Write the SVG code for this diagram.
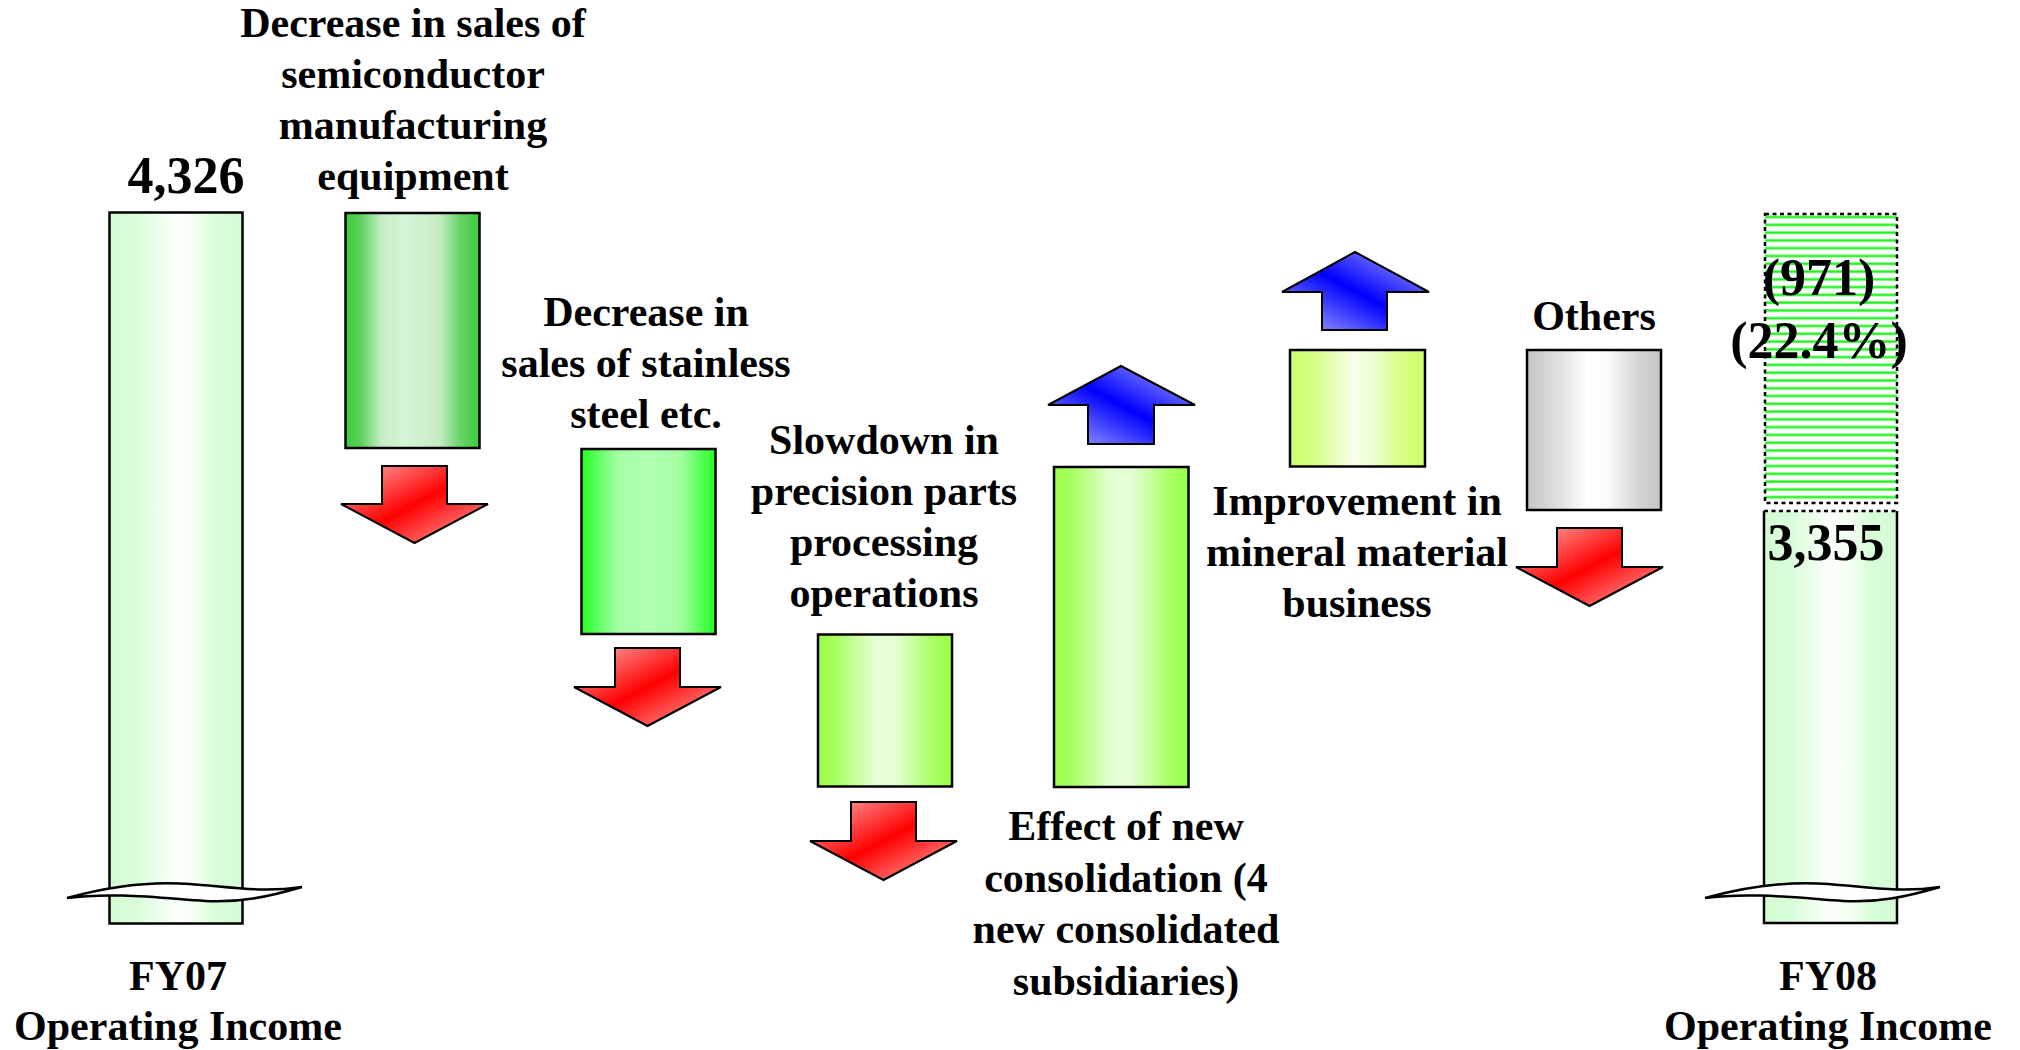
<svg xmlns="http://www.w3.org/2000/svg" width="2020" height="1050" viewBox="0 0 2020 1050">
<defs>
<linearGradient id="gFY" x1="0" y1="0" x2="1" y2="0">
<stop offset="0" stop-color="#d4fcd4"/><stop offset="0.2" stop-color="#d8fed8"/><stop offset="0.5" stop-color="#fbfffb"/><stop offset="0.65" stop-color="#f3fff3"/><stop offset="0.8" stop-color="#d8fed8"/><stop offset="1" stop-color="#d4fcd4"/>
</linearGradient>
<linearGradient id="gSemi" x1="0" y1="0" x2="1" y2="0">
<stop offset="0" stop-color="#3ccc3c"/><stop offset="0.1" stop-color="#55d055"/><stop offset="0.27" stop-color="#c6edc6"/><stop offset="0.45" stop-color="#d6f4d6"/><stop offset="0.7" stop-color="#c4ecc4"/><stop offset="0.86" stop-color="#66d466"/><stop offset="1" stop-color="#3ccc3c"/>
</linearGradient>
<linearGradient id="gStain" x1="0" y1="0" x2="1" y2="0">
<stop offset="0" stop-color="#22ff22"/><stop offset="0.27" stop-color="#a6ffa6"/><stop offset="0.5" stop-color="#b0ffb0"/><stop offset="0.73" stop-color="#a6ffa6"/><stop offset="1" stop-color="#22ff22"/>
</linearGradient>
<linearGradient id="gLime" x1="0" y1="0" x2="1" y2="0">
<stop offset="0" stop-color="#99ff44"/><stop offset="0.15" stop-color="#aaff66"/><stop offset="0.42" stop-color="#e4ffd4"/><stop offset="0.58" stop-color="#e4ffd4"/><stop offset="0.85" stop-color="#aaff66"/><stop offset="1" stop-color="#99ff44"/>
</linearGradient>
<linearGradient id="gMin" x1="0" y1="0" x2="1" y2="0">
<stop offset="0" stop-color="#ccff66"/><stop offset="0.2" stop-color="#d8ff88"/><stop offset="0.45" stop-color="#f6ffe8"/><stop offset="0.6" stop-color="#f0ffd8"/><stop offset="0.8" stop-color="#d8ff88"/><stop offset="1" stop-color="#ccff66"/>
</linearGradient>
<linearGradient id="gGray" x1="0" y1="0" x2="1" y2="0">
<stop offset="0" stop-color="#c4c4c4"/><stop offset="0.25" stop-color="#e2e2e2"/><stop offset="0.45" stop-color="#ffffff"/><stop offset="0.6" stop-color="#fafafa"/><stop offset="0.85" stop-color="#d2d2d2"/><stop offset="1" stop-color="#c4c4c4"/>
</linearGradient>
<linearGradient id="gRed" x1="0" y1="0" x2="1" y2="1">
<stop offset="0" stop-color="#ffb4b4"/><stop offset="0.5" stop-color="#ff0000"/><stop offset="1" stop-color="#ffb4b4"/>
</linearGradient>
<linearGradient id="gBlue" x1="0" y1="1" x2="1" y2="0">
<stop offset="0" stop-color="#b4b4ff"/><stop offset="0.5" stop-color="#0000ff"/><stop offset="1" stop-color="#b4b4ff"/>
</linearGradient>
<pattern id="hatch" patternUnits="userSpaceOnUse" x="0" y="215.5" width="20" height="7.78">
<rect x="0" y="0" width="20" height="7.78" fill="#ffffff"/>
<rect x="0" y="0" width="20" height="3.2" fill="#aaffaa"/>
<rect x="0" y="0.6" width="20" height="2" fill="#1ef01e"/>
</pattern>
<path id="wave" d="M67,898 C110,886 150,881 190,884 C230,887 262,893 302,887 C268,897 238,903 205,901 C160,898 112,892 67,898 Z"/>
</defs>
<style>
.bar{stroke:#000;stroke-width:2.5}
.arr{stroke:#000;stroke-width:2;stroke-linejoin:miter}
.down{fill:url(#gRed)}
.up{fill:url(#gBlue)}
text{font-family:"Liberation Serif","Times New Roman",serif;font-weight:bold;fill:#000;text-anchor:middle}
.lbl{font-size:42px}
.num{font-size:52px}
.wv{fill:#fff;stroke:#000;stroke-width:2.5}
</style>
<rect width="2020" height="1050" fill="#fff"/>

<g id="fy07">
<rect class="bar" x="109.5" y="212.5" width="133" height="711" fill="url(#gFY)"/>
<use href="#wave" class="wv"/>
<text class="num" x="186" y="193">4,326</text>
<text class="lbl" x="178" y="990">FY07</text>
<text class="lbl" x="178" y="1040">Operating Income</text>
</g>

<g id="semiconductor">
<rect class="bar" x="345.5" y="213" width="134" height="235" fill="url(#gSemi)"/>
<path class="arr down" d="M382,466 H447 V504 H488 L414.5,543 L341,504 H382 Z"/>
<text class="lbl" x="413" y="37">Decrease in sales of</text>
<text class="lbl" x="413" y="88">semiconductor</text>
<text class="lbl" x="413" y="139">manufacturing</text>
<text class="lbl" x="413" y="190">equipment</text>
</g>

<g id="stainless">
<rect class="bar" x="581.5" y="449" width="134" height="185" fill="url(#gStain)"/>
<path class="arr down" d="M615,648 H680 V687 H721 L647.5,726 L574,687 H615 Z"/>
<text class="lbl" x="646" y="326">Decrease in</text>
<text class="lbl" x="646" y="377">sales of stainless</text>
<text class="lbl" x="646" y="428">steel etc.</text>
</g>

<g id="precision">
<rect class="bar" x="818" y="634.5" width="134" height="152" fill="url(#gLime)"/>
<path class="arr down" d="M851,802 H916 V841 H957 L883.5,880 L810,841 H851 Z"/>
<text class="lbl" x="884" y="454">Slowdown in</text>
<text class="lbl" x="884" y="505">precision parts</text>
<text class="lbl" x="884" y="556">processing</text>
<text class="lbl" x="884" y="607">operations</text>
</g>

<g id="consolidation">
<rect class="bar" x="1054" y="467" width="134.5" height="320" fill="url(#gLime)"/>
<path class="arr up" d="M1121,366 L1195,405 H1154 V444 H1088 V405 H1048 Z"/>
<text class="lbl" x="1126" y="840">Effect of new</text>
<text class="lbl" x="1126" y="892">consolidation (4</text>
<text class="lbl" x="1126" y="943">new consolidated</text>
<text class="lbl" x="1126" y="995">subsidiaries)</text>
</g>

<g id="mineral">
<rect class="bar" x="1290" y="350" width="135" height="116.5" fill="url(#gMin)"/>
<path class="arr up" d="M1355,252 L1429,292 H1387 V330 H1322 V292 H1282 Z"/>
<text class="lbl" x="1357" y="515">Improvement in</text>
<text class="lbl" x="1357" y="566">mineral material</text>
<text class="lbl" x="1357" y="617">business</text>
</g>

<g id="others">
<rect class="bar" x="1527" y="350" width="134" height="160" fill="url(#gGray)"/>
<path class="arr down" d="M1557,528 H1622 V567 H1663 L1589.5,606 L1516,567 H1557 Z"/>
<text class="lbl" x="1594" y="330">Others</text>
</g>

<g id="fy08">
<rect x="1765" y="214" width="132" height="289" fill="url(#hatch)" stroke="#000" stroke-width="2.5" stroke-dasharray="4,3.5"/>
<rect x="1764" y="511" width="133" height="412" fill="url(#gFY)"/>
<line x1="1764" y1="511" x2="1897" y2="511" stroke="#000" stroke-width="2.5" stroke-dasharray="4,3.5"/>
<path d="M1764,511 V923 H1897 V511" fill="none" stroke="#000" stroke-width="2.5"/>
<use href="#wave" class="wv" transform="translate(1638,0)"/>
<text class="num" x="1819" y="295">(971)</text>
<text class="num" x="1819" y="358">(22.4%)</text>
<text class="num" x="1826" y="560">3,355</text>
<text class="lbl" x="1828" y="990">FY08</text>
<text class="lbl" x="1828" y="1040">Operating Income</text>
</g>
<g id="connectors"/>
</svg>
